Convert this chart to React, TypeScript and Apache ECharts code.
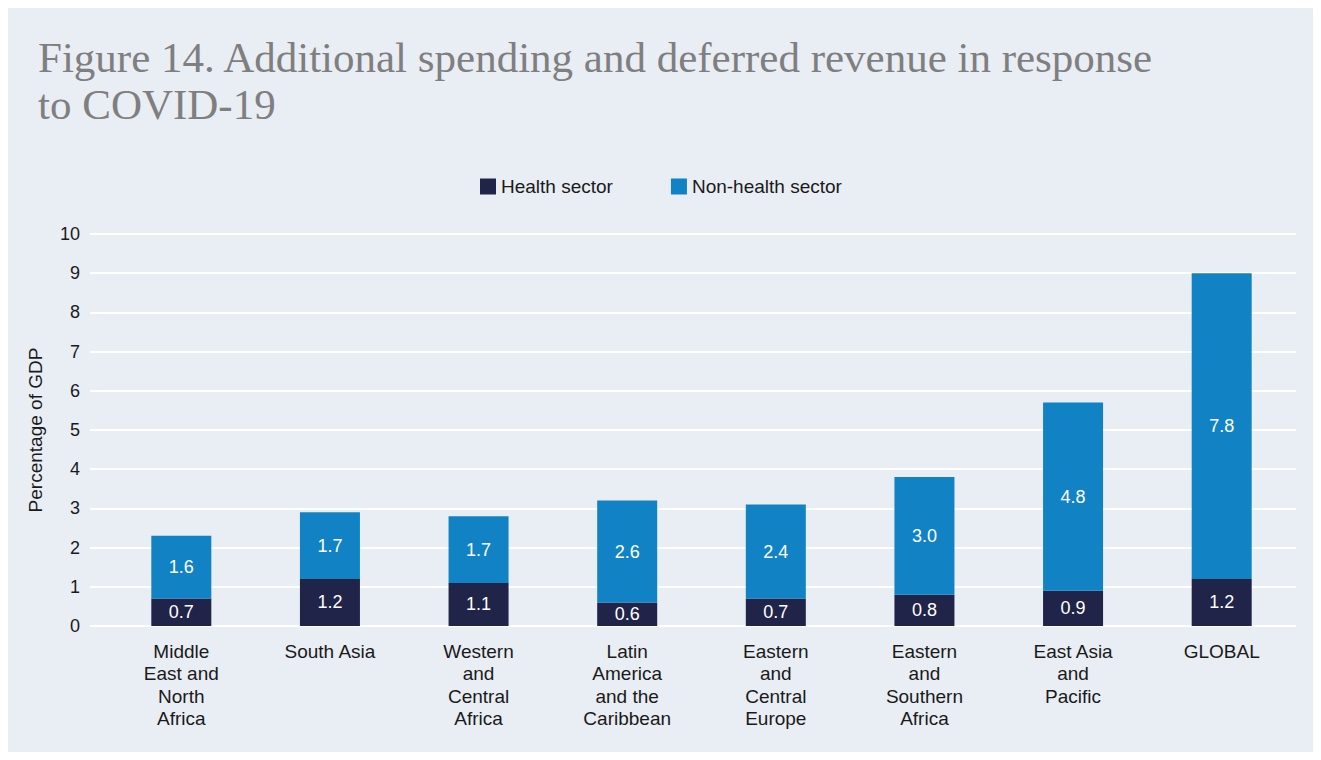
import React, { useEffect, useRef } from "react";
import * as echarts from "echarts";

const categories = [
  "Middle\nEast and\nNorth\nAfrica",
  "South Asia",
  "Western\nand\nCentral\nAfrica",
  "Latin\nAmerica\nand the\nCaribbean",
  "Eastern\nand\nCentral\nEurope",
  "Eastern\nand\nSouthern\nAfrica",
  "East Asia\nand\nPacific",
  "GLOBAL",
];
const healthSector = [0.7, 1.2, 1.1, 0.6, 0.7, 0.8, 0.9, 1.2];
const nonHealthSector = [1.6, 1.7, 1.7, 2.6, 2.4, 3.0, 4.8, 7.8];
const seriesNames = ["Health sector", "Non-health sector"];
const yMin = 0;
const yMax = 10;
const yInterval = 1;

const SANS = "'Liberation Sans', Arial, Helvetica, sans-serif";
const TEXT = "#1a1a1a";
const BG = "#e9edf4";

export default function App() {
  const ref = useRef<HTMLDivElement>(null);
  useEffect(() => {
    if (!ref.current) return;
    const chart = echarts.init(ref.current, undefined, { renderer: "svg" });
    const label = {
      show: true,
      position: "inside",
      color: "#ffffff",
      fontSize: 18,
      fontFamily: SANS,
      formatter: (p: any) => Number(p.value).toFixed(1),
    };
    chart.setOption({
      animation: false,
      backgroundColor: BG,
      title: {
        text: "Figure 14. Additional spending and deferred revenue in response\nto COVID-19",
        left: 25,
        top: 21,
        textStyle: {
          fontFamily: "'Liberation Serif', 'DejaVu Serif', serif",
          fontWeight: "normal",
          fontSize: 43,
          lineHeight: 47,
          color: "#7f7f7f",
        },
      },
      legend: {
        data: seriesNames,
        left: 467,
        top: 164,
        icon: "rect",
        itemWidth: 16,
        itemHeight: 16,
        itemGap: 58,
        textStyle: { fontFamily: SANS, fontSize: 19, color: TEXT },
      },
      grid: [
        { left: 99, right: 17, top: 226, bottom: 126 },
        { left: 82, right: 17, top: 226, bottom: 126 },
      ],
      xAxis: [
        {
          type: "category",
          gridIndex: 0,
          data: categories,
          axisLine: { show: false },
          axisTick: { show: false },
          axisLabel: {
            margin: 14,
            fontFamily: SANS,
            fontSize: 19,
            lineHeight: 22.5,
            color: TEXT,
            interval: 0,
          },
        },
        { type: "value", gridIndex: 1, min: 0, max: 1, show: false },
      ],
      yAxis: [
        { type: "value", gridIndex: 0, min: yMin, max: yMax, interval: yInterval, show: false, splitLine: { show: false } },
        {
          type: "value",
          gridIndex: 1,
          min: yMin,
          max: yMax,
          interval: yInterval,
          axisLine: { show: false },
          axisTick: { show: false },
          axisLabel: { margin: 10, fontFamily: SANS, fontSize: 18, color: TEXT },
          splitLine: { show: true, lineStyle: { color: "#ffffff", width: 2 } },
          name: "Percentage of GDP",
          nameLocation: "middle",
          nameRotate: 90,
          nameGap: 45,
          nameTextStyle: { fontFamily: SANS, fontSize: 19, color: TEXT },
        },
      ],
      series: [
        {
          name: seriesNames[0],
          type: "bar",
          stack: "total",
          xAxisIndex: 0,
          yAxisIndex: 0,
          barWidth: 60,
          data: healthSector,
          itemStyle: { color: "#1f2448" },
          label,
        },
        {
          name: seriesNames[1],
          type: "bar",
          stack: "total",
          xAxisIndex: 0,
          yAxisIndex: 0,
          barWidth: 60,
          data: nonHealthSector,
          itemStyle: { color: "#1183c5" },
          label,
        },
      ],
    });
    return () => chart.dispose();
  }, []);
  return <div ref={ref} style={{ width: "100%", height: 744, background: BG }} />;
}
